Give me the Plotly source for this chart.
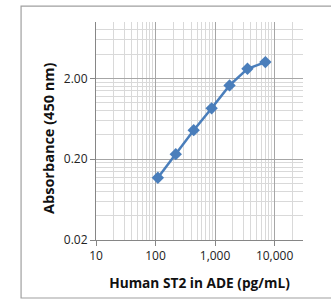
import plotly.graph_objects as go

concentration = [109.4, 218.75, 437.5, 875, 1750, 3500, 7000]
absorbance = [0.118, 0.231, 0.458, 0.854, 1.64, 2.64, 3.19]

x_ticks = [10, 100, 1000, 10000]
x_labels = ["10", "100", "1,000", "10,000"]
y_ticks = [0.02, 0.2, 2]
y_labels = ["0.02", "0.20", "2.00"]

x_minor = [m * d for d in [10, 100, 1000, 10000] for m in range(2, 10) if m * d <= 30000]
y_minor = [0.02 * k for k in range(2, 10)] + [0.2 * k for k in range(2, 10)] + [2 * k for k in range(2, 6)]

FONT = "Open Sans"

fig = go.Figure()
fig.add_trace(go.Scatter(
    x=concentration, y=absorbance, mode="lines+markers",
    line=dict(color="#4A7EBB", width=2.5),
    marker=dict(symbol="diamond", size=9.5, color="#4A7EBB"),
    showlegend=False,
))

fig.update_xaxes(
    type="log", range=[1, 4.477], automargin=False,
    tickmode="array", tickvals=x_ticks, ticktext=x_labels,
    showgrid=True, gridcolor="#A6A6A6", gridwidth=1,
    minor=dict(tickmode="array", tickvals=x_minor, showgrid=True, gridcolor="#D9D9D9", gridwidth=1, ticks=""),
    ticks="outside", ticklen=5, tickcolor="#868686",
    showline=True, linecolor="#868686", linewidth=1,
    tickfont=dict(family=FONT, size=12, color="#222"),
    title=dict(text="<b>Human ST2 in ADE (pg/mL)</b>", font=dict(family=FONT, size=13.7, color="#111"), standoff=15),
    zeroline=False,
)
fig.update_yaxes(
    type="log", range=[1.30103 - 3, 1.0], automargin=False,
    tickmode="array", tickvals=y_ticks, ticktext=y_labels,
    showgrid=True, gridcolor="#A6A6A6", gridwidth=1,
    minor=dict(tickmode="array", tickvals=y_minor, showgrid=True, gridcolor="#D9D9D9", gridwidth=1, ticks=""),
    ticks="outside", ticklen=5, tickcolor="#868686",
    showline=True, linecolor="#868686", linewidth=1,
    tickfont=dict(family=FONT, size=12, color="#222"),
    zeroline=False,
)

fig.add_annotation(
    text="<b>Absorbance (450 nm)</b>", textangle=-90,
    xref="paper", yref="paper", x=(48 - 96) / 207, y=(240 - 138) / 218,
    xanchor="center", yanchor="middle", showarrow=False,
    font=dict(family=FONT, size=14.5, color="#111"),
)

fig.add_shape(type="rect", xref="paper", yref="paper",
              x0=-0.362, x1=2.0, y0=-0.266, y1=1.073,
              line=dict(color="#A0A0A0", width=1.2), fillcolor="rgba(0,0,0,0)", layer="below")

fig.update_layout(
    width=331, height=299,
    margin=dict(l=96, r=28, t=22, b=59, autoexpand=False),
    paper_bgcolor="white", plot_bgcolor="white",
    font=dict(family=FONT),
)

fig.write_html("out.html", config={"displayModeBar": False},
               post_script="document.body.style.margin='0';document.body.style.overflow='hidden';")
